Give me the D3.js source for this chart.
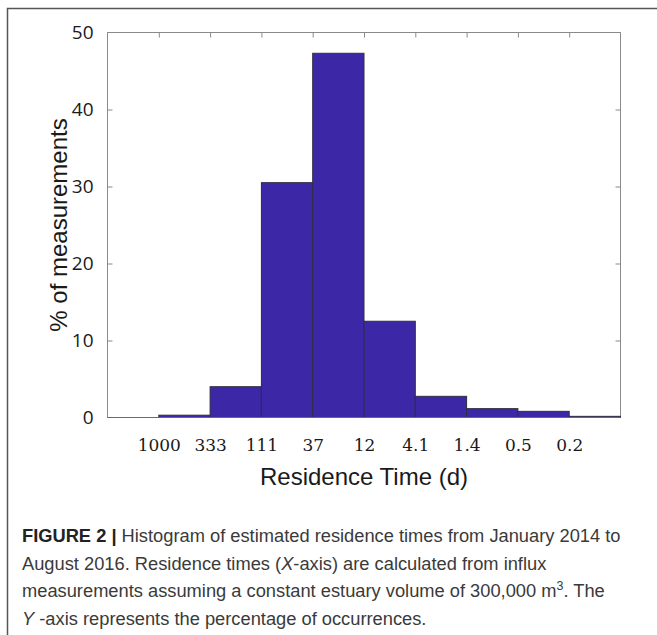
<!DOCTYPE html>
<html>
<head>
<meta charset="utf-8">
<script src="https://cdn.jsdelivr.net/npm/d3@7"></script>
<style>
  html, body { margin: 0; padding: 0; background: #fff; }
  svg { display: block; }
</style>
</head>
<body>
<svg id="chart" width="657" height="635"></svg>
<script>
// ---- data ----
const binIndex = [0, 1, 2, 3, 4, 5, 6, 7, 8, 9];
const percentValues = [0, 0.3, 4.0, 30.5, 47.3, 12.5, 2.75, 1.15, 0.8, 0.15];
const edgeLabels = ["1000", "333", "111", "37", "12", "4.1", "1.4", "0.5", "0.2"];
const yTicks = [0, 10, 20, 30, 40, 50];
const xTitle = "Residence Time (d)";
const yTitle = "% of measurements";

(function () {
const svg = d3.select("#chart");

// outer frame (extends beyond the window on right and bottom)
svg.append("path")
  .attr("d", "M7.5,700 L7.5,8.5 L700,8.5")
  .attr("fill", "none").attr("stroke", "#555").attr("stroke-width", 1.5);

const pL = 107.5, pR = 620.5, pT = 32.5, pB = 417.5;
const x = d3.scaleLinear().domain([0, binIndex.length]).range([pL, pR]);
const y = d3.scaleLinear().domain([0, 50]).range([pB, pT]);

// plot box
svg.append("rect")
  .attr("x", pL).attr("y", pT)
  .attr("width", pR - pL).attr("height", pB - pT)
  .attr("fill", "#fff").attr("stroke", "#8a8a8a").attr("stroke-width", 1);

// bars
svg.append("g").selectAll("rect")
  .data(binIndex.filter(i => percentValues[i] > 0))
  .join("rect")
  .attr("x", i => x(i))
  .attr("y", i => y(percentValues[i]))
  .attr("width", i => x(i + 1) - x(i))
  .attr("height", i => y(0) - y(percentValues[i]))
  .attr("fill", "#3c28a7")
  .attr("stroke", "#2e2e3e")
  .attr("stroke-width", 1);

// axes
const edgeVals = d3.range(1, binIndex.length);
const gTop = svg.append("g").attr("transform", `translate(0,${pT})`)
  .call(d3.axisTop(x).tickValues(edgeVals).tickSize(-5).tickFormat(""));
const gLeft = svg.append("g").attr("transform", `translate(${pL},0)`)
  .call(d3.axisLeft(y).tickValues(yTicks).tickSize(-5).tickPadding(14));
const gRight = svg.append("g").attr("transform", `translate(${pR},0)`)
  .call(d3.axisRight(y).tickValues(yTicks).tickSize(-5).tickFormat(""));
const gBottom = svg.append("g").attr("transform", `translate(0,${pB})`)
  .call(d3.axisBottom(x).tickValues(edgeVals).tickSize(0).tickPadding(21)
    .tickFormat((d, i) => edgeLabels[i]));

[gTop, gLeft, gRight, gBottom].forEach(g => {
  g.select(".domain").remove();
  g.selectAll(".tick line").attr("stroke", "#8a8a8a");
});

gLeft.selectAll(".tick text")
  .attr("font-family", "'Open Sans', sans-serif")
  .attr("font-size", 19).attr("fill", "#1a1a1a");
gLeft.selectAll(".tick").filter(d => d === 0 || d === 50).select("line").remove();
gRight.selectAll(".tick").filter(d => d === 0 || d === 50).select("line").remove();

gBottom.selectAll(".tick text")
  .attr("font-family", "'DejaVu Serif', serif")
  .attr("font-size", 17).attr("fill", "#1a1a1a");

// baseline drawn over bars
svg.append("line")
  .attr("x1", pL).attr("x2", pR).attr("y1", pB).attr("y2", pB)
  .attr("stroke", "#6a6a6a").attr("stroke-width", 1);

// axis titles
svg.append("text")
  .attr("x", (pL + pR) / 2).attr("y", 485)
  .attr("text-anchor", "middle")
  .attr("font-family", "'Liberation Sans', Arial, sans-serif")
  .attr("font-size", 24).attr("fill", "#1a1a1a")
  .text(xTitle);

svg.append("text")
  .attr("transform", "translate(67,225) rotate(-90)")
  .attr("text-anchor", "middle")
  .attr("font-family", "'Liberation Sans', Arial, sans-serif")
  .attr("font-size", 24).attr("fill", "#1a1a1a")
  .text(yTitle);

// caption
const cap = svg.append("g")
  .attr("font-family", "'Liberation Sans', Arial, sans-serif")
  .attr("font-size", 18.3).attr("fill", "#3a3a3a");

const l1 = cap.append("text").attr("x", 22).attr("y", 542);
l1.append("tspan").attr("font-weight", "bold").attr("fill", "#222").text("FIGURE 2 | ");
l1.append("tspan").text("Histogram of estimated residence times from January 2014 to");

const l2 = cap.append("text").attr("x", 22).attr("y", 569.5);
l2.append("tspan").text("August 2016. Residence times (");
l2.append("tspan").attr("font-style", "italic").text("X");
l2.append("tspan").text("-axis) are calculated from influx");

const l3 = cap.append("text").attr("x", 22).attr("y", 597);
l3.append("tspan").text("measurements assuming a constant estuary volume of 300,000 m");
l3.append("tspan").attr("font-size", 12.5).attr("dy", -7).text("3");
l3.append("tspan").attr("dy", 7).text(". The");

const l4 = cap.append("text").attr("x", 22).attr("y", 624.5);
l4.append("tspan").attr("font-style", "italic").text("Y");
l4.append("tspan").text(" -axis represents the percentage of occurrences.");
})();
</script>
</body>
</html>
